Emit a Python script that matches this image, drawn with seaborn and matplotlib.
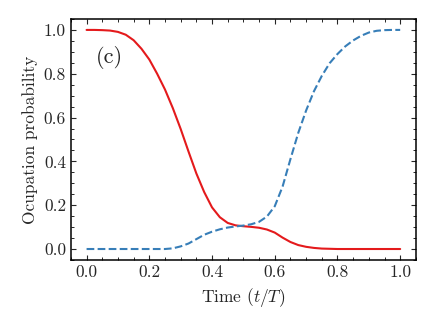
import numpy as np
import pandas as pd
import matplotlib
matplotlib.use("Agg")
import matplotlib.pyplot as plt
import seaborn as sns
from matplotlib.ticker import MultipleLocator

t_red = [0.0, 0.025, 0.05, 0.075, 0.1, 0.125, 0.15, 0.175, 0.2, 0.225, 0.25, 0.275,
         0.3, 0.325, 0.35, 0.375, 0.4, 0.425, 0.45, 0.475, 0.5, 0.525, 0.55, 0.575,
         0.6, 0.625, 0.65, 0.675, 0.7, 0.725, 0.75, 0.775, 0.8, 0.85, 0.9, 0.95, 1.0]
p_red = [1.0, 1.0, 0.999, 0.997, 0.991, 0.978, 0.953, 0.914, 0.865, 0.80, 0.728, 0.643,
         0.548, 0.445, 0.345, 0.26, 0.19, 0.145, 0.119, 0.108, 0.104, 0.101, 0.097, 0.089,
         0.075, 0.052, 0.032, 0.018, 0.010, 0.005, 0.002, 0.001, 0.0, 0.0, 0.0, 0.0, 0.0]

t_blue = [0.0, 0.05, 0.1, 0.15, 0.2, 0.25, 0.275, 0.3, 0.325, 0.35, 0.375, 0.4, 0.425,
          0.45, 0.475, 0.5, 0.525, 0.55, 0.575, 0.6, 0.625, 0.65, 0.675, 0.7, 0.725,
          0.75, 0.775, 0.8, 0.825, 0.85, 0.875, 0.9, 0.925, 0.95, 0.975, 1.0]
p_blue = [0.0, 0.0, 0.0, 0.0, 0.0, 0.0, 0.003, 0.012, 0.025, 0.045, 0.065, 0.079, 0.090,
          0.098, 0.103, 0.107, 0.113, 0.124, 0.148, 0.195, 0.285, 0.41, 0.53, 0.632, 0.72,
          0.79, 0.848, 0.89, 0.925, 0.952, 0.973, 0.988, 0.996, 0.999, 1.0, 1.0]

x_ticks = [0.0, 0.2, 0.4, 0.6, 0.8, 1.0]
y_ticks = [0.0, 0.2, 0.4, 0.6, 0.8, 1.0]

sns.set_style("ticks")
plt.rcParams.update({
    "font.family": "serif",
    "font.serif": ["cmr10", "DejaVu Serif"],
    "mathtext.fontset": "cm",
    "axes.unicode_minus": False,
    "axes.formatter.use_mathtext": True,
    "xtick.direction": "in",
    "ytick.direction": "in",
    "xtick.top": True,
    "ytick.right": True,
    "axes.linewidth": 1.1,
})

fig = plt.figure(figsize=(4.35, 3.27), dpi=100)
ax = fig.add_axes([0.163, 0.205, 0.793, 0.737])

df_red = pd.DataFrame({"t": t_red, "p": p_red})
df_blue = pd.DataFrame({"t": t_blue, "p": p_blue})
sns.lineplot(data=df_red, x="t", y="p", ax=ax, color="#e41a1c", lw=1.5)
sns.lineplot(data=df_blue, x="t", y="p", ax=ax, color="#377eb8", lw=1.5, linestyle="--")

ax.set_xlim(-0.05, 1.05)
ax.set_ylim(-0.05, 1.05)
ax.set_xticks(x_ticks)
ax.set_yticks(y_ticks)
ax.set_xticklabels([f"{v:.1f}" for v in x_ticks])
ax.set_yticklabels([f"{v:.1f}" for v in y_ticks])
ax.xaxis.set_minor_locator(MultipleLocator(0.05))
ax.yaxis.set_minor_locator(MultipleLocator(0.05))
ax.tick_params(which="major", length=3.6, width=0.8, labelsize=12.5, top=True, right=True, direction="in")
ax.tick_params(which="minor", length=2.2, width=0.7, top=True, right=True, direction="in")
for s in ax.spines.values():
    s.set_color("black")
    s.set_linewidth(1.1)

ax.set_xlabel("Time ($t/T$)", fontsize=12.5)
ax.set_ylabel("Ocupation probability", fontsize=12.5)
ax.text(0.074, 0.872, "(c)", fontsize=16, ha="center", va="center")

fig.savefig("out.png", dpi=100)
